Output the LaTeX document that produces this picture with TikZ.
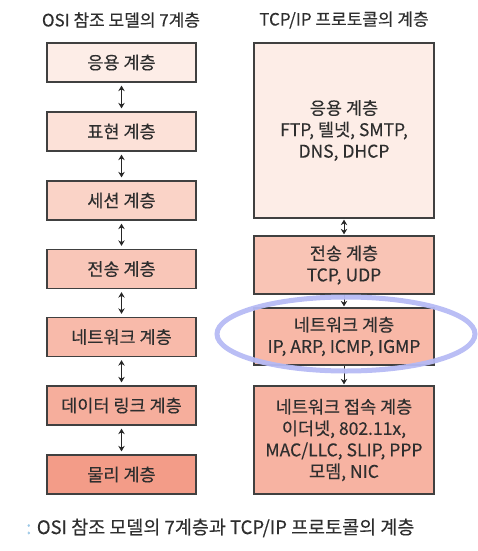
\documentclass[tikz,border=0pt]{standalone}
\usepackage{fontspec}
\setmainfont{Noto Sans CJK KR}[FakeBold=0.25]
\usetikzlibrary{arrows.meta,shapes.geometric}
\definecolor{txt}{HTML}{2E2E2E}
\definecolor{edge}{HTML}{404040}
\definecolor{cA}{HTML}{FDEDE7}
\definecolor{cB}{HTML}{FCE1D8}
\definecolor{cC}{HTML}{FAD3C7}
\definecolor{cD}{HTML}{F9C6B8}
\definecolor{cE}{HTML}{F8BAAA}
\definecolor{cF}{HTML}{F6AE9C}
\definecolor{cG}{HTML}{F39C88}
\definecolor{rB}{HTML}{F9C4B5}
\definecolor{rC}{HTML}{F8B8A7}
\definecolor{rD}{HTML}{F7B3A2}
\definecolor{ring}{HTML}{B6BAF4}
\definecolor{colon}{HTML}{9CC8E6}
\tikzset{
  layer/.style={draw=edge, line width=1.3pt, text=txt, align=center, inner sep=0pt,
    font=\fontsize{17.5}{21.5}\selectfont},
  osi/.style={layer, minimum width=149pt, minimum height=39pt},
  tcp/.style={layer, minimum width=180pt},
  both/.style={{Stealth[length=5.5pt,width=6.5pt]}-{Stealth[length=5.5pt,width=6.5pt]}, line width=1pt, black!85},
  down/.style={-{Stealth[length=5.5pt,width=6.5pt]}, line width=1pt, black!85},
  title/.style={text=txt, font=\fontsize{17}{20}\selectfont}
}
\begin{document}
\begin{tikzpicture}[x=1pt,y=-1pt]
\useasboundingbox (0,0) rectangle (477,551);
\node[title] (t1) at (121,20) {OSI 참조 모델의 7계층};
\node[title] (t2) at (344,20) {TCP/IP 프로토콜의 계층};
% OSI
\node[osi, fill=cA] (o1) at (121.5,62.5) {응용 계층};
\node[osi, fill=cB] (o2) at (121.5,131.5) {표현 계층};
\node[osi, fill=cC] (o3) at (121.5,200.5) {세션 계층};
\node[osi, fill=cD] (o4) at (121.5,269) {전송 계층};
\node[osi, fill=cE] (o5) at (121.5,337) {네트워크 계층};
\node[osi, fill=cF] (o6) at (121.5,405.5) {데이터 링크 계층};
\node[osi, fill=cG] (o7) at (121.5,474.5) {물리 계층};
\foreach \a/\b in {o1/o2,o2/o3,o3/o4,o4/o5,o5/o6,o6/o7}
  \draw[both, shorten <=3pt, shorten >=3pt] (\a.south) -- (\b.north);
% TCP/IP
\node[tcp, fill=cA, minimum height=175pt] (r1) at (344,130.5) {응용 계층\\FTP, 텔넷, SMTP,\\DNS, DHCP};
\node[tcp, fill=rB, minimum height=58pt] (r2) at (344,265) {전송 계층\\TCP, UDP};
\node[tcp, fill=rC, minimum height=57pt] (r3) at (344,336.5) {네트워크 계층\\IP, ARP, ICMP, IGMP};
\node[tcp, fill=rD, minimum height=108pt] (r4) at (344,440) {네트워크 접속 계층\\이더넷, 802.11x,\\MAC/LLC, SLIP, PPP\\모뎀, NIC};
\draw[both, shorten <=1pt, shorten >=1pt] (r1.south) -- (r2.north);
\draw[down, shorten >=1pt] (r2.south) -- (r3.north);
\draw[down, shorten >=1pt] (r3.south) -- (r4.north);
% highlight ring
\node[draw=ring, line width=5pt, ellipse, inner sep=0pt, minimum width=258pt, minimum height=74pt, opacity=0.95] (ring) at (346,334) {};
% caption
\node[anchor=west, text=txt, inner sep=0pt, font=\fontsize{18.5}{22}\selectfont] (cap) at (26,528) {{\color{colon}:} OSI 참조 모델의 7계층과 TCP/IP 프로토콜의 계층};
\end{tikzpicture}
\end{document}
